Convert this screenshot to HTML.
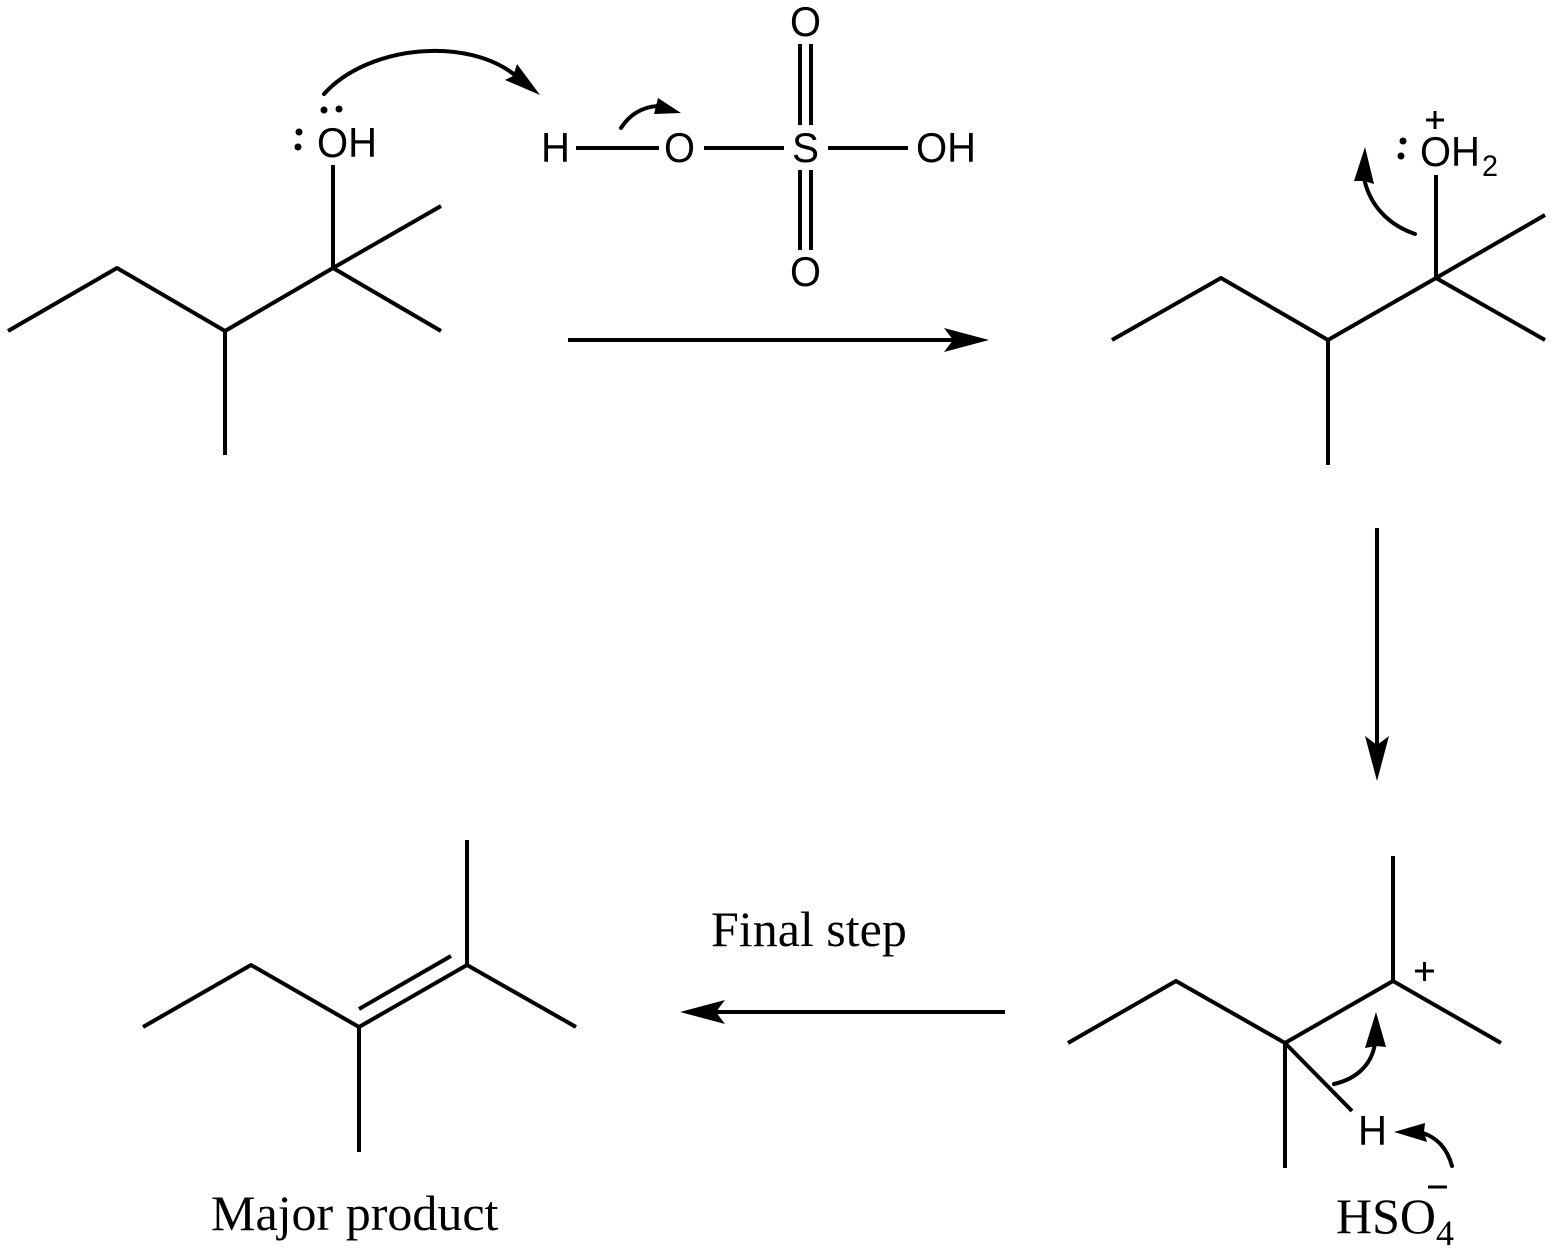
<!DOCTYPE html>
<html>
<head>
<meta charset="utf-8">
<style>
html,body{margin:0;padding:0;background:#fff;width:1554px;height:1254px;overflow:hidden}
svg{display:block}
.b{fill:none;stroke:#000;stroke-width:4;stroke-linecap:butt;stroke-linejoin:round}
.c{fill:none;stroke:#000;stroke-width:4;stroke-linecap:round}
.s{font-family:"Liberation Sans",sans-serif;font-size:42px;fill:#000}
.t{font-family:"Liberation Serif",serif;font-size:50px;fill:#000}
</style>
</head>
<body>
<svg width="1554" height="1254" viewBox="0 0 1554 1254" xmlns="http://www.w3.org/2000/svg">
<rect width="1554" height="1254" fill="#fff"/>

<!-- Reactant alcohol -->
<path class="b" d="M8 331L117 268L225 331L333 268L441 331M333 268L441 206M225 331V455M333 268V165"/>
<text class="s" x="317" y="157" textLength="60" lengthAdjust="spacingAndGlyphs">OH</text>
<circle cx="324" cy="110" r="3.500"/><circle cx="339" cy="109" r="3.500"/>
<circle cx="299" cy="132" r="3.500"/><circle cx="298" cy="147" r="3.500"/>
<path class="c" d="M324 94C368 45 468 36 516 76"/>
<path d="M540 95L505 80L513 76L517 64Z" fill="#000"/>

<!-- Sulfuric acid -->
<text class="s" x="541" y="162" textLength="29" lengthAdjust="spacingAndGlyphs">H</text>
<text class="s" x="664" y="162" textLength="31" lengthAdjust="spacingAndGlyphs">O</text>
<text class="s" x="792" y="162" textLength="27" lengthAdjust="spacingAndGlyphs">S</text>
<text class="s" x="916" y="162" textLength="60" lengthAdjust="spacingAndGlyphs">OH</text>
<text class="s" x="790" y="36" textLength="31" lengthAdjust="spacingAndGlyphs">O</text>
<text class="s" x="790" y="286" textLength="31" lengthAdjust="spacingAndGlyphs">O</text>
<path class="b" d="M576 148H659M704 148H784M828 148H908"/>
<path class="b" d="M800 44V125M811 44V125M800 170V250M811 170V250"/>
<path class="c" d="M621 128C630 114 642 107 658 106"/>
<path d="M681 113L654 114L656 106L658 98Z" fill="#000"/>

<!-- Arrow 1 -->
<path class="b" d="M568 340H965"/>
<path d="M989 340L944 352L953 340L944 328Z" fill="#000"/>

<!-- Protonated alcohol -->
<path class="b" d="M1112 340L1221 278L1328 340L1436 278L1545 340M1436 278L1545 215M1328 340V465M1436 278V175"/>
<text class="s" x="1420" y="166" textLength="31" lengthAdjust="spacingAndGlyphs">O</text>
<text class="s" x="1451" y="166" textLength="29" lengthAdjust="spacingAndGlyphs">H</text>
<text x="1482" y="176" font-family="'Liberation Sans',sans-serif" font-size="30" textLength="16" lengthAdjust="spacingAndGlyphs">2</text>
<path d="M1426 120H1444M1435 111V129" stroke="#000" stroke-width="3" fill="none"/>
<circle cx="1403" cy="141" r="3.500"/><circle cx="1401" cy="156" r="3.500"/>
<path class="c" d="M1415 234C1386 224 1369 203 1364 178"/>
<path d="M1365 147L1374 184L1364 181L1354 181Z" fill="#000"/>

<!-- Arrow 2 -->
<path class="b" d="M1377 528V755"/>
<path d="M1377 781L1365 736L1377 745L1389 736Z" fill="#000"/>

<!-- Carbocation -->
<path class="b" d="M1068 1043L1176 981L1285 1043L1393 981L1501 1043M1393 981V856M1285 1043V1168M1285 1043L1352 1111"/>
<path d="M1415 971H1434M1424.500 962V981" stroke="#000" stroke-width="3" fill="none"/>
<path class="c" d="M1334 1084C1356 1079 1372 1065 1375 1043"/>
<path d="M1376 1012L1386 1047L1376 1046L1365 1048Z" fill="#000"/>
<text class="s" x="1358" y="1145" textLength="29" lengthAdjust="spacingAndGlyphs">H</text>
<path class="c" d="M1452 1166C1447 1148 1437 1137 1420 1132"/>
<path d="M1394 1132L1425 1123L1424 1132L1427 1142Z" fill="#000"/>
<text class="t" x="1336" y="1233">HSO</text>
<text x="1436" y="1245" font-family="'Liberation Serif',serif" font-size="36" textLength="18" lengthAdjust="spacingAndGlyphs">4</text>
<path d="M1428 1187H1447" stroke="#000" stroke-width="3" fill="none"/>

<!-- Arrow 3 -->
<path class="b" d="M1005 1012H705"/>
<path d="M680 1012L725 1000L716 1012L725 1024Z" fill="#000"/>
<text class="t" x="711" y="946">Final step</text>

<!-- Product -->
<path class="b" d="M143 1027L251 965L359 1027L467 965L576 1027M467 965V840M359 1027V1152M359 1009L451 956"/>
<text class="t" x="211" y="1230">Major product</text>
</svg>
</body>
</html>
